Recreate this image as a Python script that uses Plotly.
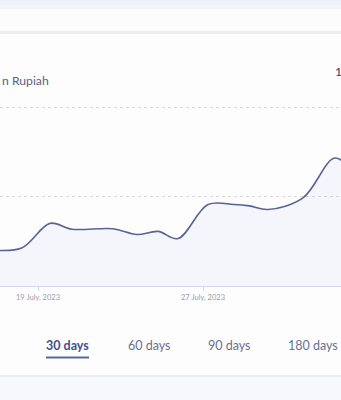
import plotly.graph_objects as go

# Price series (Rupiah) sampled at recorded timestamps
timestamps = [
    "2023-07-16 16:00", "2023-07-18 05:00", "2023-07-19 14:00", "2023-07-20 15:30",
    "2023-07-22 15:15", "2023-07-23 19:10", "2023-07-24 19:40", "2023-07-25 18:55",
    "2023-07-27 05:50", "2023-07-28 12:00", "2023-07-29 06:00", "2023-07-30 03:40",
    "2023-07-31 20:20", "2023-08-02 09:35", "2023-08-03 08:50",
]
prices = [
    1034050, 1034250, 1037000, 1036350,
    1036400, 1035750, 1036100, 1035300,
    1039100, 1039100, 1038950, 1038550,
    1039850, 1044300, 1042400,
]

tick_dates = ["2023-07-19", "2023-07-27"]
grid_levels = [1040000, 1050000]
period_labels = ["30 days", "60 days", "90 days", "180 days"]
active_period = "30 days"
title_text = "n Rupiah"
side_text = "1"

W, H = 341, 400
M_TOP, M_BOT = 100, 114
PLOT_H = H - M_TOP - M_BOT


def px(x):
    return x / W


def py(y):
    return (H - M_BOT - y) / PLOT_H


fig = go.Figure()
fig.add_trace(go.Scatter(
    x=timestamps, y=prices, mode="lines",
    line=dict(color="#5a6396", width=1.6, shape="spline", smoothing=1.0),
    fill="tozeroy", fillcolor="rgba(100,140,245,0.06)",
    hoverinfo="skip", showlegend=False,
))

shapes = [
    # page header band
    dict(type="rect", xref="paper", yref="paper", x0=px(-5), x1=px(W + 5),
         y0=py(-5), y1=py(5), fillcolor="#eef1f9", line_width=0, layer="below"),
    dict(type="rect", xref="paper", yref="paper", x0=px(-5), x1=px(W + 5),
         y0=py(5), y1=py(9), fillcolor="#f3f4f8", line_width=0, layer="below"),
    dict(type="rect", xref="paper", yref="paper", x0=px(-5), x1=px(W + 5),
         y0=py(9), y1=py(31), fillcolor="#fcfcfd", line_width=0, layer="below"),
    # card shadow and body
    dict(type="rect", xref="paper", yref="paper", x0=px(-5), x1=px(W + 5),
         y0=py(31), y1=py(377), fillcolor="#eceef2", line_width=0, layer="below"),
    dict(type="rect", xref="paper", yref="paper", x0=px(-5), x1=px(W + 5),
         y0=py(34), y1=py(375), fillcolor="#fdfdfd", line_width=0, layer="below"),
    # active period underline
    dict(type="line", xref="paper", yref="paper", x0=px(46), x1=px(89),
         y0=py(357.5), y1=py(357.5), line=dict(color="#5a66a0", width=2)),
]

annotations = [
    dict(text=title_text, xref="paper", yref="paper", x=px(0), y=py(80),
         xanchor="left", yanchor="middle", showarrow=False,
         font=dict(family="Lato", size=12.2, color="#5a6184")),
    dict(text=side_text, xref="paper", yref="paper", x=px(332.5), y=py(72),
         xanchor="left", yanchor="middle", showarrow=False,
         font=dict(family="Lato", size=12.2, color="#3c4050")),
]

period_centers = [67.5, 149, 229.5, 313]
for label, cx in zip(period_labels, period_centers):
    active = label == active_period
    annotations.append(dict(
        text=f"<b>{label}</b>" if active else label,
        xref="paper", yref="paper", x=px(cx), y=py(345),
        xanchor="center", yanchor="middle", showarrow=False,
        font=dict(family="Lato", size=12.5, color="#474f86" if active else "#6a7090"),
    ))

fig.update_layout(
    width=W, height=H,
    margin=dict(l=0, r=0, t=M_TOP, b=M_BOT, pad=0),
    paper_bgcolor="#f7f8fb",
    plot_bgcolor="rgba(0,0,0,0)",
    shapes=shapes,
    annotations=annotations,
    xaxis=dict(
        type="date",
        range=["2023-07-17 03:47", "2023-08-02 16:35"],
        tickvals=tick_dates, tickformat="%-d %B, %Y",
        tickfont=dict(family="Lato", size=7.5, color="#9b9ca8"),
        ticks="outside", ticklen=4, tickcolor="#d3d7e2",
        showline=True, linecolor="#d5d9e6", linewidth=1,
        showgrid=False, zeroline=False,
    ),
    yaxis=dict(
        range=[1030000, 1030000 + PLOT_H * 10000 / 89.5],
        tickvals=grid_levels, showticklabels=False,
        showgrid=True, gridcolor="#d9d9dc", griddash="dot", gridwidth=1,
        showline=False, zeroline=False,
    ),
)

fig.write_html("out.html")
